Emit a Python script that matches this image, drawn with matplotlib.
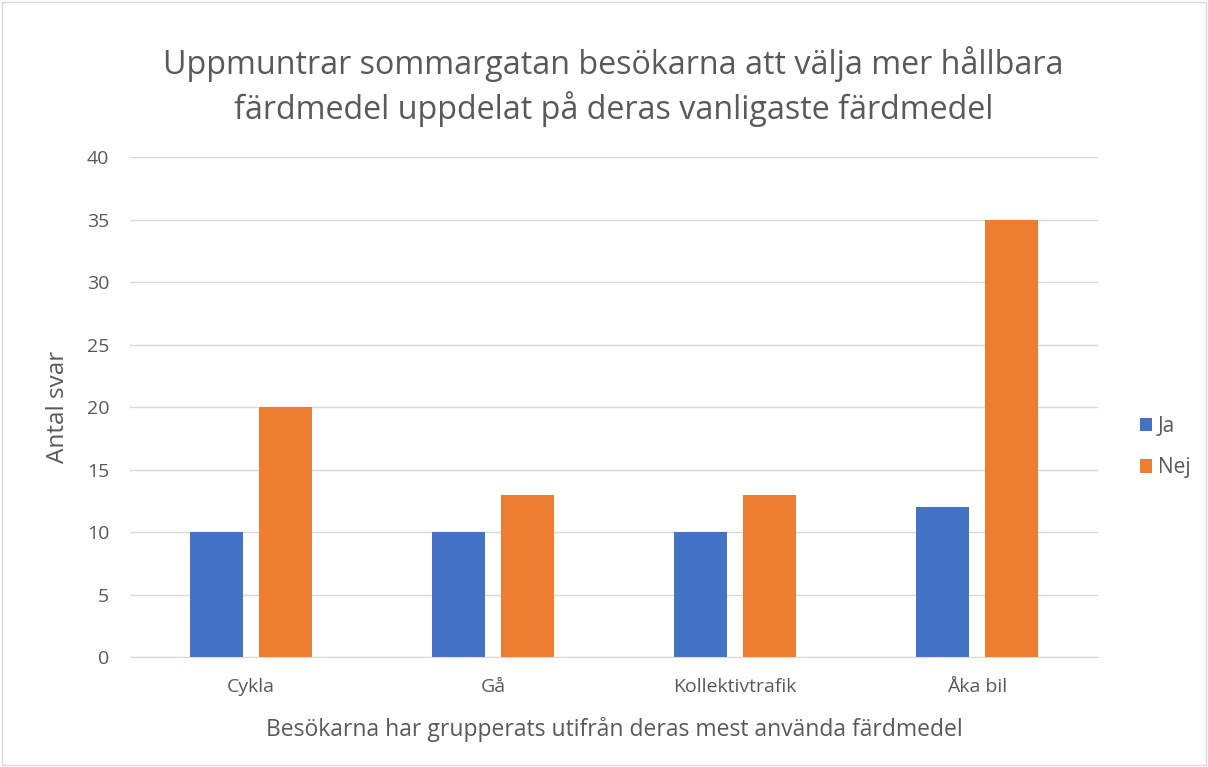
import numpy as np
import matplotlib
matplotlib.use("Agg")
import matplotlib.pyplot as plt
from matplotlib.patches import Rectangle

plt.rcParams['font.family'] = ['Open Sans', 'DejaVu Sans']

# data
categories = ['Cykla', 'Gå', 'Kollektivtrafik', 'Åka bil']
ja_values = [10, 10, 10, 12]
nej_values = [20, 13, 13, 35]
series_names = ['Ja', 'Nej']
y_ticks = [0, 5, 10, 15, 20, 25, 30, 35, 40]

title = 'Uppmuntrar sommargatan besökarna att välja mer hållbara\nfärdmedel uppdelat på deras vanligaste färdmedel'
x_label = 'Besökarna har grupperats utifrån deras mest använda färdmedel'
y_label = 'Antal svar'

blue = '#4472C4'
orange = '#ED7D31'
text_gray = '#595959'
grid_gray = '#D9D9D9'

fig = plt.figure(figsize=(12.08, 7.67), dpi=100)
ax = fig.add_axes([0.1076, 0.1434, 0.8013, 0.6519])

x = np.arange(len(categories))
width = 0.22
offset = 0.142
ax.bar(x - offset, ja_values, width, color=blue, label=series_names[0], zorder=3)
ax.bar(x + offset, nej_values, width, color=orange, label=series_names[1], zorder=3)

ax.set_xlim(-0.5, len(categories) - 0.5)
ax.set_ylim(0, 40)
ax.set_yticks(y_ticks)
ax.set_xticks(x)
ax.set_xticklabels(categories)
ax.tick_params(axis='both', length=0, labelsize=14, colors=text_gray)
ax.tick_params(axis='y', pad=15)
ax.tick_params(axis='x', pad=15)
ax.grid(axis='y', color=grid_gray, linewidth=1, zorder=0)
for side in ['top', 'right', 'left']:
    ax.spines[side].set_visible(False)
ax.spines['bottom'].set_color(grid_gray)
ax.spines['bottom'].set_zorder(4)

ax.set_xlabel(x_label, fontsize=16.5, color=text_gray, labelpad=15)
ax.set_ylabel(y_label, fontsize=17.5, color=text_gray)
ax.yaxis.set_label_coords(-0.062, 0.5)

fig.text(0.508, 0.887, title, ha='center', va='center', fontsize=23.2,
         color=text_gray, linespacing=1.3)

leg = ax.legend(loc='center left', bbox_to_anchor=(1.024, 0.42), frameon=False,
                fontsize=15, handlelength=0.6, handleheight=0.6,
                handletextpad=0.25, labelspacing=1.0)
for t in leg.get_texts():
    t.set_color(text_gray)

fig.patches.append(Rectangle((0.002, 0.003), 0.996, 0.994, transform=fig.transFigure,
                             fill=False, edgecolor='#D9D9D9', linewidth=1))

fig.savefig('out.png', dpi=100)
